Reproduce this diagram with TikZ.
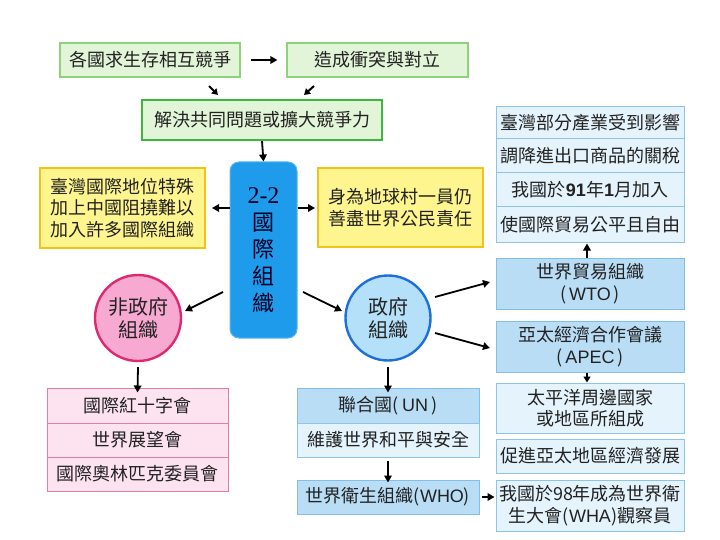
\documentclass[tikz,border=0pt]{standalone}
\usepackage{fontspec}
\setmainfont{Noto Sans CJK TC}
\newfontfamily\arialf{Liberation Sans}
\newfontfamily\timesf{Liberation Serif}
\usetikzlibrary{arrows.meta,calc}
\definecolor{txt}{HTML}{222222}
\definecolor{gfill}{HTML}{E3F5D8}
\definecolor{gline}{HTML}{8ED27C}
\definecolor{gline2}{HTML}{3CB83C}
\definecolor{yfill}{HTML}{FFF58E}
\definecolor{yline}{HTML}{F2C21A}
\definecolor{bigblue}{HTML}{1E9BEA}
\definecolor{bigblueline}{HTML}{56B6F2}
\definecolor{pkfill}{HTML}{F7A9D2}
\definecolor{pkline}{HTML}{E0286E}
\definecolor{bcfill}{HTML}{B5E0FA}
\definecolor{bcline}{HTML}{1E6FD9}
\definecolor{psfill}{HTML}{FCE3EF}
\definecolor{psline}{HTML}{E07FA6}
\definecolor{bbfill}{HTML}{B9DDF5}
\definecolor{bbline}{HTML}{82BFE8}
\definecolor{lbfill}{HTML}{E4F3FC}
\definecolor{lbline}{HTML}{8EC4EA}
\tikzset{
  base/.style={draw, inner sep=0pt, align=center, text=txt, font=\fontsize{18}{21.5}\selectfont},
  gbox/.style={base, fill=gfill, draw=gline, line width=1.2pt},
  gboxb/.style={base, fill=gfill, draw=gline2, line width=2.4pt},
  ybox/.style={base, fill=yfill, draw=yline, line width=2.2pt},
  pbox/.style={base, fill=psfill, draw=psline, line width=1pt, minimum width=181pt},
  bbox/.style={base, fill=bbfill, draw=bbline, line width=1pt},
  lbox/.style={base, fill=lbfill, draw=lbline, line width=1pt},
  arr/.style={-{Triangle[length=7pt,width=7.5pt]}, line width=1.8pt, draw=black},
  sarr/.style={-{Triangle[length=6pt,width=7pt]}, line width=2pt, draw=black},
}
\newcommand{\ar}[1]{{\arialf #1}}
\begin{document}
\begin{tikzpicture}[x=1pt,y=-1pt]
\useasboundingbox (0,0) rectangle (720,540);
\fill[white] (0,0) rectangle (720,540);

% top green boxes
\node[gbox, minimum width=180pt, minimum height=34pt] (A) at (150,60) {各國求生存相互競爭};
\node[gbox, minimum width=181pt, minimum height=34pt] (B) at (377.5,60) {造成衝突與對立};
\node[gboxb, minimum width=240pt, minimum height=40pt] (C) at (262,120) {解決共同問題或擴大競爭力};

\draw[arr] ([xshift=10pt]A.east) -- ([xshift=-9pt]B.west);
\coordinate (a1) at (209,86);
\coordinate (a2) at (218,95);
\coordinate (b1) at (314,86);
\coordinate (b2) at (304,95);
\draw[sarr] (a1) -- (a2);
\draw[sarr] (b1) -- (b2);

% central blue box
\node[draw=bigblueline, fill=bigblue, line width=1pt, rounded corners=9pt,
      minimum width=67pt, minimum height=176pt, inner sep=0pt, align=center,
      text=black!85!blue, font=\fontsize{22}{27}\selectfont] (M) at (263.5,250)
      {{\timesf\fontsize{24}{27}\selectfont 2-2}\\國\\際\\組\\織};
\draw[arr] (C.south) -- (M.north);

% yellow boxes
\node[ybox, minimum width=165pt, minimum height=80pt] (YL) at (122.5,208)
  {臺灣國際地位特殊\\加上中國阻撓難以\\加入許多國際組織};
\node[ybox, minimum width=165pt, minimum height=79pt] (YR) at (400.5,207.5)
  {身為地球村一員仍\\善盡世界公民責任};
\coordinate (yl) at (212,208);
\coordinate (yr) at (315,208);
\draw[arr] (M.west |- 0,208) -- (yl);
\draw[arr] (M.east |- 0,208) -- (yr);

% circles
\node[circle, draw=pkline, fill=pkfill, line width=2.4pt, minimum size=86pt, inner sep=0pt,
      align=center, text=txt, font=\fontsize{20}{23}\selectfont] (P) at (138,318) {非政府\\組織};
\node[circle, draw=bcline, fill=bcfill, line width=2.4pt, minimum size=85pt, inner sep=0pt,
      align=center, text=txt, font=\fontsize{20}{23}\selectfont] (G) at (388,318) {政府\\組織};
\coordinate (m1) at (223,292);
\coordinate (m2) at (303,292);
\coordinate (p1) at (185,311);
\coordinate (g1) at (342,311);
\draw[arr] (m1) -- (p1);
\draw[arr] (m2) -- (g1);

% right top stack
\node[lbox, minimum width=188pt, minimum height=32pt] (R1) at (590,123) {臺灣部分產業受到影響};
\node[lbox, minimum width=188pt, minimum height=34pt] (R2) at (590,156) {調降進出口商品的關稅};
\node[lbox, minimum width=188pt, minimum height=34pt] (R3) at (590,190) {我國於{\arialf\bfseries 91}年{\arialf\bfseries 1}月加入};
\node[lbox, minimum width=188pt, minimum height=35pt] (R4) at (590,224.5) {使國際貿易公平且自由};

% WTO / APEC
\node[bbox, minimum width=188pt, minimum height=51pt] (WTO) at (590,283.5) {世界貿易組織\\(\,\ar{WTO}\,)};
\node[bbox, minimum width=188pt, minimum height=51pt] (APEC) at (590,346.5) {亞太經濟合作會議\\(\,\ar{APEC}\,)};
\node[lbox, minimum width=188pt, minimum height=50pt] (PAC) at (590,408) {太平洋周邊國家\\或地區所組成};
\node[lbox, minimum width=188pt, minimum height=34pt] (PRO) at (590,456) {促進亞太地區經濟發展};
\node[lbox, minimum width=188pt, minimum height=51pt] (WHA) at (590,505.5) {我國於98年成為世界衛\\生大會(\ar{WHA})觀察員};

\draw[arr] ([xshift=-3pt]WTO.north) -- ([xshift=-3pt,yshift=-1pt]R4.south);
\draw[sarr] ([xshift=-3pt]APEC.south) -- ([xshift=-3pt]PAC.north);

\coordinate (g2) at (435,297);
\coordinate (g3) at (435,333);
\coordinate (w1) at (490,282);
\coordinate (w2) at (490,348);
\draw[arr] (g2) -- (w1);
\draw[arr] (g3) -- (w2);

% pink stack
\node[pbox, minimum height=35pt] (N1) at (137.5,405.5) {國際紅十字會};
\node[pbox, minimum height=34pt] (N2) at (137.5,440) {世界展望會};
\node[pbox, minimum height=34pt] (N3) at (137.5,474) {國際奧林匹克委員會};
\draw[arr] ([yshift=-5pt]P.south) -- ([yshift=-5pt]N1.north);

% UN stack
\node[bbox, minimum width=182pt, minimum height=35pt] (UN) at (388,405.5) {聯合國(\,\ar{UN}\,)};
\node[lbox, minimum width=182pt, minimum height=34pt] (UN2) at (388,440) {維護世界和平與安全};
\node[bbox, minimum width=182pt, minimum height=34pt] (WHO) at (388,497) {世界衛生組織(\ar{WHO})};
\draw[arr] ([yshift=-5pt]G.south) -- ([yshift=-5pt]UN.north);
\draw[arr] ([yshift=-3pt]UN2.south) -- ([yshift=-3pt]WHO.north);
\draw[arr] ([xshift=2pt]WHO.east) -- ([xshift=-1pt]WHA.west |- WHO.east);
\end{tikzpicture}
\end{document}
